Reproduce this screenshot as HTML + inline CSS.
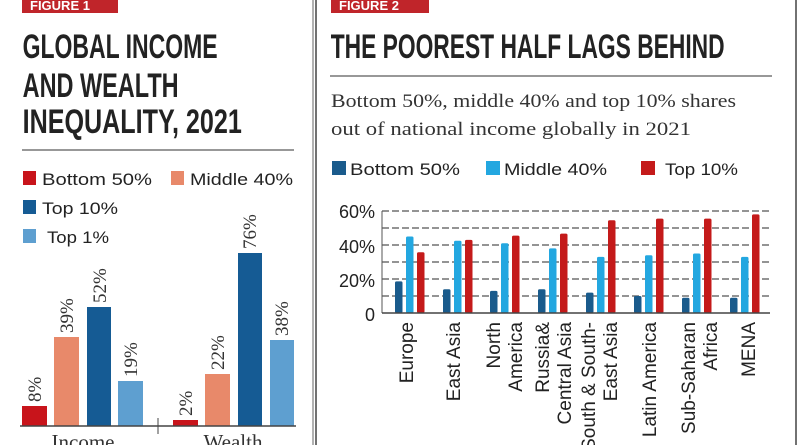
<!DOCTYPE html>
<html><head><meta charset="utf-8"><style>
html,body{margin:0;padding:0;background:#fff;}
svg{display:block}
.t{font-family:"Liberation Sans",sans-serif;font-weight:bold;fill:#222;}
.s{font-family:"Liberation Serif",serif;fill:#333;}
.l{font-family:"Liberation Sans",sans-serif;fill:#222;}
</style></head><body>
<svg width="800" height="445" viewBox="0 0 800 445" xmlns="http://www.w3.org/2000/svg">
<rect width="800" height="445" fill="#fff"/>
<line x1="313" y1="0" x2="313" y2="445" stroke="#999" stroke-width="1.5"/>
<line x1="316" y1="0" x2="316" y2="445" stroke="#444" stroke-width="1.5"/>
<line x1="796" y1="0" x2="796" y2="445" stroke="#444" stroke-width="1.5"/>
<rect x="22" y="0" width="96" height="13" fill="#c0252a"/>
<text x="30" y="10" class="t" style="fill:#fff;font-size:13px">FIGURE 1</text>
<rect x="331" y="0" width="98" height="13" fill="#c0252a"/>
<text x="339" y="10" class="t" style="fill:#fff;font-size:13px">FIGURE 2</text>
<g class="t" style="font-size:34px" transform="scale(0.78,1)">
<text x="29" y="58" textLength="250" lengthAdjust="spacingAndGlyphs">GLOBAL INCOME</text>
<text x="29" y="97" textLength="200" lengthAdjust="spacingAndGlyphs">AND WEALTH</text>
<text x="29" y="133" textLength="281" lengthAdjust="spacingAndGlyphs">INEQUALITY, 2021</text>
</g>
<line x1="22" y1="150" x2="294" y2="150" stroke="#777" stroke-width="1.5"/>
<g class="l" style="font-size:17px">
<rect x="23" y="171" width="13" height="14" fill="#c8141b"/><text x="42" y="185" textLength="110" lengthAdjust="spacingAndGlyphs">Bottom 50%</text>
<rect x="171" y="171" width="13" height="14" fill="#e8896a"/><text x="190" y="185" textLength="103" lengthAdjust="spacingAndGlyphs">Middle 40%</text>
<rect x="23" y="200" width="13" height="14" fill="#155b94"/><text x="42" y="214" textLength="76" lengthAdjust="spacingAndGlyphs">Top 10%</text>
<rect x="23" y="229" width="13" height="14" fill="#5e9fd0"/><text x="47" y="243" textLength="62" lengthAdjust="spacingAndGlyphs">Top 1%</text>
</g>
<rect x="22" y="406" width="25" height="20" fill="#c8141b"/>
<rect x="54" y="337" width="25" height="89" fill="#e8896a"/>
<rect x="87" y="307" width="24" height="119" fill="#155b94"/>
<rect x="118" y="381" width="25" height="45" fill="#5e9fd0"/>
<rect x="173" y="420" width="25" height="6" fill="#c8141b"/>
<rect x="205" y="374" width="25" height="52" fill="#e8896a"/>
<rect x="238" y="253" width="24" height="173" fill="#155b94"/>
<rect x="270" y="340" width="24" height="86" fill="#5e9fd0"/>
<line x1="20" y1="426" x2="296" y2="426" stroke="#444" stroke-width="1.5"/>
<line x1="158" y1="418" x2="158" y2="434" stroke="#444" stroke-width="1"/>
<g class="s" style="font-size:19px" text-anchor="start">
<text transform="translate(41,402) rotate(-90)">8%</text>
<text transform="translate(73,333) rotate(-90)">39%</text>
<text transform="translate(106,303) rotate(-90)">52%</text>
<text transform="translate(137,377) rotate(-90)">19%</text>
<text transform="translate(192,416) rotate(-90)">2%</text>
<text transform="translate(224,370) rotate(-90)">22%</text>
<text transform="translate(256,249) rotate(-90)">76%</text>
<text transform="translate(288,336) rotate(-90)">38%</text>
</g>
<g class="s" style="font-size:21px" text-anchor="middle">
<text x="83" y="449">Income</text>
<text x="233" y="449">Wealth</text>
</g>
<g class="t" style="font-size:34px" transform="scale(0.78,1)">
<text x="424" y="58" textLength="505" lengthAdjust="spacingAndGlyphs">THE POOREST HALF LAGS BEHIND</text>
</g>
<line x1="330" y1="76" x2="772" y2="76" stroke="#777" stroke-width="1.5"/>
<g class="s" style="font-size:19px">
<text x="331" y="107" textLength="405" lengthAdjust="spacingAndGlyphs">Bottom 50%, middle 40% and top 10% shares</text>
<text x="331" y="135" textLength="360" lengthAdjust="spacingAndGlyphs">out of national income globally in 2021</text>
</g>
<g class="l" style="font-size:17px">
<rect x="332" y="161" width="14" height="14" fill="#1a5b8c"/><text x="350" y="175" textLength="110" lengthAdjust="spacingAndGlyphs">Bottom 50%</text>
<rect x="486" y="161" width="14" height="14" fill="#23a7e0"/><text x="504" y="175" textLength="103" lengthAdjust="spacingAndGlyphs">Middle 40%</text>
<rect x="641" y="161" width="14" height="14" fill="#c41a1a"/><text x="665" y="175" textLength="73" lengthAdjust="spacingAndGlyphs">Top 10%</text>
</g>
<g stroke="#555" stroke-width="1.2" stroke-dasharray="7,3">
<line x1="382" y1="211" x2="770" y2="211"/>
<line x1="382" y1="228" x2="770" y2="228"/>
<line x1="382" y1="245" x2="770" y2="245"/>
<line x1="382" y1="262" x2="770" y2="262"/>
<line x1="382" y1="279" x2="770" y2="279"/>
<line x1="382" y1="296" x2="770" y2="296"/>
</g>
<line x1="382" y1="211" x2="382" y2="313" stroke="#555" stroke-width="1"/>
<g class="l" style="font-size:18px" text-anchor="end">
<text x="375" y="218">60%</text>
<text x="375" y="253">40%</text>
<text x="375" y="287">20%</text>
<text x="375" y="321">0</text>
</g>
<g>
<rect x="395" y="281.4" width="7.5" height="31.6" rx="1.5" fill="#1a5b8c"/>
<rect x="406" y="236.5" width="7.5" height="76.5" rx="1.5" fill="#23a7e0"/>
<rect x="417" y="252.3" width="7.5" height="60.7" rx="1.5" fill="#c41a1a"/>
<rect x="443" y="289.2" width="7.5" height="23.8" rx="1.5" fill="#1a5b8c"/>
<rect x="454" y="240.7" width="7.5" height="72.3" rx="1.5" fill="#23a7e0"/>
<rect x="465" y="239.9" width="7.5" height="73.1" rx="1.5" fill="#c41a1a"/>
<rect x="490" y="290.9" width="7.5" height="22.1" rx="1.5" fill="#1a5b8c"/>
<rect x="501" y="243.3" width="7.5" height="69.7" rx="1.5" fill="#23a7e0"/>
<rect x="512" y="235.6" width="7.5" height="77.4" rx="1.5" fill="#c41a1a"/>
<rect x="538" y="289.2" width="7.5" height="23.8" rx="1.5" fill="#1a5b8c"/>
<rect x="549" y="248.4" width="7.5" height="64.6" rx="1.5" fill="#23a7e0"/>
<rect x="560" y="233.6" width="7.5" height="79.4" rx="1.5" fill="#c41a1a"/>
<rect x="586" y="292.6" width="7.5" height="20.4" rx="1.5" fill="#1a5b8c"/>
<rect x="597" y="256.9" width="7.5" height="56.1" rx="1.5" fill="#23a7e0"/>
<rect x="608" y="220.3" width="7.5" height="92.7" rx="1.5" fill="#c41a1a"/>
<rect x="634" y="296" width="7.5" height="17" rx="1.5" fill="#1a5b8c"/>
<rect x="645" y="255.2" width="7.5" height="57.8" rx="1.5" fill="#23a7e0"/>
<rect x="656" y="218.6" width="7.5" height="94.4" rx="1.5" fill="#c41a1a"/>
<rect x="682" y="297.7" width="7.5" height="15.3" rx="1.5" fill="#1a5b8c"/>
<rect x="693" y="253.5" width="7.5" height="59.5" rx="1.5" fill="#23a7e0"/>
<rect x="704" y="218.6" width="7.5" height="94.4" rx="1.5" fill="#c41a1a"/>
<rect x="730" y="297.7" width="7.5" height="15.3" rx="1.5" fill="#1a5b8c"/>
<rect x="741" y="256.9" width="7.5" height="56.1" rx="1.5" fill="#23a7e0"/>
<rect x="752" y="214.4" width="7.5" height="98.6" rx="1.5" fill="#c41a1a"/>
</g>
<line x1="382" y1="313" x2="770" y2="313" stroke="#444" stroke-width="1.5"/>
<g class="l" style="font-size:19px" text-anchor="end">
<text transform="translate(413,322) rotate(-90)">Europe</text>
<text transform="translate(460,322) rotate(-90)">East Asia</text>
<text transform="translate(500,322) rotate(-90)">North</text>
<text transform="translate(522,322) rotate(-90)">America</text>
<text transform="translate(549,322) rotate(-90)">Russia&amp;</text>
<text transform="translate(571,322) rotate(-90)">Central Asia</text>
<text transform="translate(595,322) rotate(-90)">South &amp; South-</text>
<text transform="translate(617,322) rotate(-90)">East Asia</text>
<text transform="translate(656,322) rotate(-90)">Latin America</text>
<text transform="translate(695,322) rotate(-90)">Sub-Saharan</text>
<text transform="translate(717,322) rotate(-90)">Africa</text>
<text transform="translate(755,322) rotate(-90)">MENA</text>
</g>
</svg>
</body></html>
